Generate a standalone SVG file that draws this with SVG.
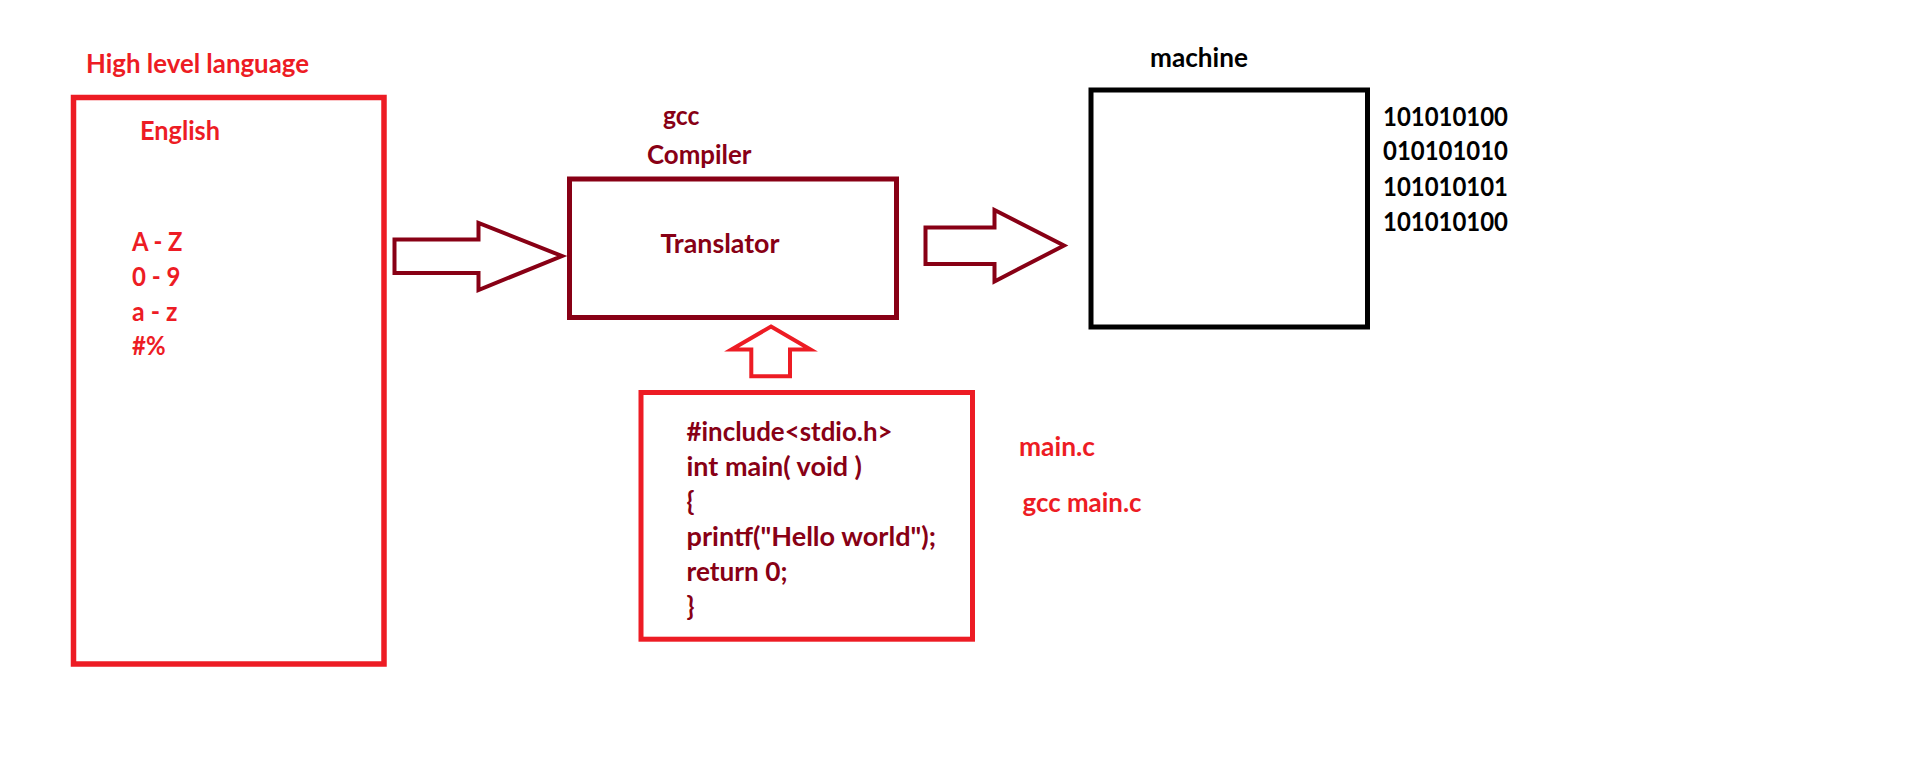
<svg xmlns="http://www.w3.org/2000/svg" width="1910" height="772" viewBox="0 0 1910 772">
<style>
text{font-family:Lato,"Open Sans","Liberation Sans",sans-serif;font-weight:bold;font-size:26px}
.r{fill:#ED1C24}.d{fill:#880015}.k{fill:#000}
.box{fill:none;stroke-linejoin:miter}
.arr{fill:none;stroke-linejoin:miter}
</style>
<rect width="1910" height="772" fill="#fff"/>
<g id="high-level">
<text class="r" x="86" y="73" textLength="223" lengthAdjust="spacingAndGlyphs">High level language</text>
<rect class="box" x="73.5" y="97.5" width="310.5" height="566.5" stroke="#ED1C24" stroke-width="5.5"/>
<text class="r" x="140" y="140" textLength="80" lengthAdjust="spacingAndGlyphs">English</text>
<text class="r" x="132" y="250.5" textLength="50.5" lengthAdjust="spacingAndGlyphs">A - Z</text>
<text class="r" x="132" y="285.5" textLength="48.5" lengthAdjust="spacingAndGlyphs">0 - 9</text>
<text class="r" x="132" y="320.5" textLength="45.5" lengthAdjust="spacingAndGlyphs">a - z</text>
<text class="r" x="132" y="355" textLength="33.5" lengthAdjust="spacingAndGlyphs">#%</text>
</g>
<g id="compiler">
<text class="d" x="663" y="124.5" textLength="36.5" lengthAdjust="spacingAndGlyphs">gcc</text>
<text class="d" x="647" y="163.5" textLength="104.5" lengthAdjust="spacingAndGlyphs">Compiler</text>
<rect class="box" x="569.5" y="179" width="327" height="138.5" stroke="#880015" stroke-width="5"/>
<text class="d" x="660.5" y="252.5" textLength="119" lengthAdjust="spacingAndGlyphs">Translator</text>
</g>
<g id="source">
<rect class="box" x="641" y="392.5" width="331.5" height="246.7" stroke="#ED1C24" stroke-width="5"/>
<text class="d" x="686.5" y="440.5" textLength="206" lengthAdjust="spacingAndGlyphs">#include&lt;stdio.h&gt;</text>
<text class="d" x="686.5" y="475.5" textLength="175.5" lengthAdjust="spacingAndGlyphs">int main( void )</text>
<text class="d" x="686.5" y="510.5">{</text>
<text class="d" x="686.5" y="545.5" textLength="249.5" lengthAdjust="spacingAndGlyphs">printf("Hello world");</text>
<text class="d" x="686.5" y="580.5" textLength="101" lengthAdjust="spacingAndGlyphs">return 0;</text>
<text class="d" x="686.5" y="615.5">}</text>
</g>
<g id="labels">
<text class="r" x="1019" y="456" textLength="76" lengthAdjust="spacingAndGlyphs">main.c</text>
<text class="r" x="1022.5" y="511.5" textLength="119" lengthAdjust="spacingAndGlyphs">gcc main.c</text>
</g>
<g id="machine">
<text class="k" x="1150" y="66.5" textLength="98" lengthAdjust="spacingAndGlyphs">machine</text>
<rect class="box" x="1091" y="90" width="276.5" height="237" stroke="#000" stroke-width="5"/>
<text class="k" x="1383" y="125.5" textLength="125" lengthAdjust="spacingAndGlyphs">101010100</text>
<text class="k" x="1383" y="160" textLength="125" lengthAdjust="spacingAndGlyphs">010101010</text>
<text class="k" x="1383" y="195.5" textLength="125" lengthAdjust="spacingAndGlyphs">101010101</text>
<text class="k" x="1383" y="230.5" textLength="125" lengthAdjust="spacingAndGlyphs">101010100</text>
</g>
<g id="connectors">
<polygon class="arr" stroke="#880015" stroke-width="4" points="394.5,239.5 478.5,239.5 478.5,223 562,256 478.5,290 478.5,273 394.5,273"/>
<polygon class="arr" stroke="#880015" stroke-width="4" points="925.5,227.5 994.5,227.5 994.5,210 1064,245.5 994.5,281.5 994.5,264 925.5,264"/>
<polygon class="arr" stroke="#ED1C24" stroke-width="4" points="771,326.5 810.5,349.5 790,349.5 790,376.3 751.3,376.3 751.3,349.5 731.5,349.5"/>
</g>
</svg>
